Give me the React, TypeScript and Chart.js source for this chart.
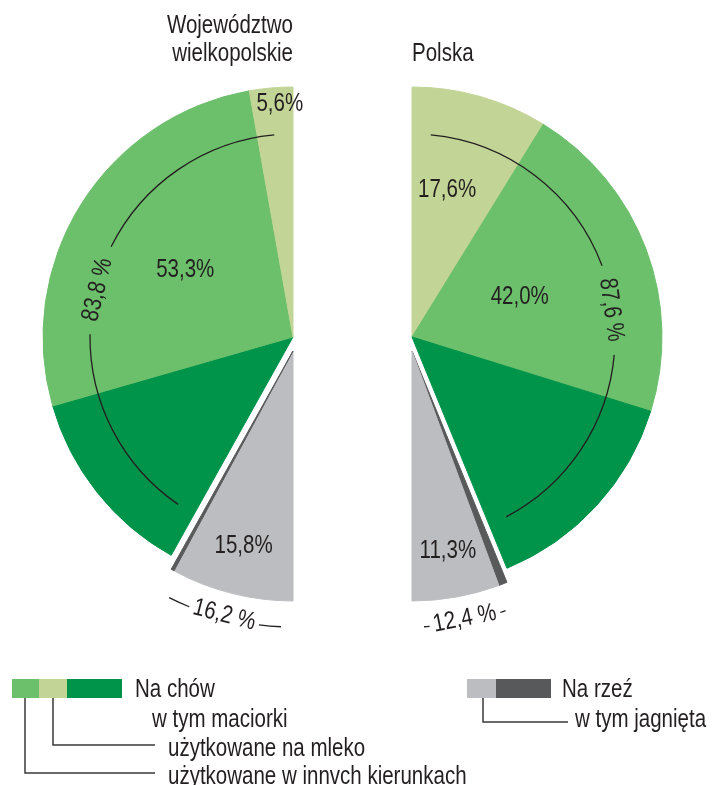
import React, { useEffect, useRef } from 'react';
import { Chart, registerables } from 'chart.js';

Chart.register(...registerables);

// ---------------- data ----------------
const sliceNames = [
  'na chów – maciorki użytkowane na mleko',
  'na chów – maciorki użytkowane w innych kierunkach',
  'na chów – pozostałe',
  'na rzeź – pozostałe',
  'na rzeź – jagnięta',
];
const wielkopolskieValues = [5.6, 53.3, 24.9, 0.4, 15.8];
const polskaValues = [17.6, 42.0, 28.0, 1.1, 11.3];
const wielkopolskieTotals = [83.8, 16.2]; // na chów, na rzeź
const polskaTotals = [87.6, 12.4];
const labelledSlices = [true, true, false, false, true];
const breedingSlices = [0, 1, 2];
const slaughterSlices = [3, 4];
const wielkopolskieTitle = ['Województwo', 'wielkopolskie'];
const polskaTitle = ['Polska'];
const legendBreeding = ['Na chów', 'w tym maciorki', 'użytkowane na mleko', 'użytkowane w innvch kierunkach'];
const legendSlaughter = ['Na rzeź', 'w tym jagnięta'];

// ---------------- styles / layout ----------------
const sliceColors = ['#c2d596', '#6cbf6b', '#00934a', '#58595b', '#bcbdc1'];
const W = 716;
const H = 785;
const CY = 337;
const R = 250;
const DY = 14;
const FONT = '"Liberation Sans", Arial, Helvetica, sans-serif';
const INK = '#231f20';
const FS = 25;
const SX = 0.82;

const fmt = (v: number) => v.toFixed(1).replace('.', ',');
const deg = (d: number) => (d * Math.PI) / 180;

function txt(
  ctx: CanvasRenderingContext2D,
  s: string,
  x: number,
  y: number,
  align: CanvasTextAlign,
  baseline: CanvasTextBaseline = 'alphabetic',
  rot = 0
) {
  ctx.save();
  ctx.translate(x, y);
  if (rot) ctx.rotate(rot);
  ctx.scale(SX, 1);
  ctx.font = `${FS}px ${FONT}`;
  ctx.textAlign = align;
  ctx.textBaseline = baseline;
  ctx.fillStyle = INK;
  ctx.fillText(s, 0, 0);
  ctx.restore();
}

interface PieSpec {
  left: boolean;
  cx: number;
  values: number[];
  totals: number[];
  title: string[];
  labelLayout: { r: number; da: number }[];
  breedShift: number;
}

const leftSpec: PieSpec = {
  left: true,
  cx: 293,
  values: wielkopolskieValues,
  totals: wielkopolskieTotals,
  title: wielkopolskieTitle,
  labelLayout: [
    { r: 233, da: 1.8 },
    { r: 127, da: 0 },
    { r: 0, da: 0 },
    { r: 0, da: 0 },
    { r: 201, da: 0 },
  ],
  breedShift: -1,
};

const rightSpec: PieSpec = {
  left: false,
  cx: 412,
  values: polskaValues,
  totals: polskaTotals,
  title: polskaTitle,
  labelLayout: [
    { r: 151, da: -2.4 },
    { r: 115, da: 0 },
    { r: 0, da: 0 },
    { r: 0, da: 0 },
    { r: 203, da: 0 },
  ],
  breedShift: 3.4,
};

function drawLegend(ctx: CanvasRenderingContext2D) {
  const y0 = 679;
  const h = 19;
  const sw: [number, number, number][] = [
    [12, 39, 1],
    [39, 67, 0],
    [67, 122, 2],
    [467, 496, 4],
    [496, 551, 3],
  ];
  sw.forEach(([a, b, c]) => {
    ctx.fillStyle = sliceColors[c];
    ctx.fillRect(a, y0, b - a, h);
  });
  ctx.save();
  ctx.strokeStyle = '#3a3a3a';
  ctx.lineWidth = 1.5;
  const paths: [number, number][][] = [
    [[53, 698], [53, 745], [155, 745]],
    [[25, 698], [25, 773], [155, 773]],
    [[483, 698], [483, 722], [568, 722]],
  ];
  paths.forEach((p) => {
    ctx.beginPath();
    ctx.moveTo(p[0][0], p[0][1]);
    for (let i = 1; i < p.length; i++) ctx.lineTo(p[i][0], p[i][1]);
    ctx.stroke();
  });
  ctx.restore();
  const bx = [135, 152, 168, 168];
  const by = [697, 727, 756, 784];
  legendBreeding.forEach((s, i) => txt(ctx, s, bx[i], by[i], 'left'));
  const sxs = [562, 575];
  const sys = [697, 727];
  legendSlaughter.forEach((s, i) => txt(ctx, s, sxs[i], sys[i], 'left'));
}

function makeChart(canvas: HTMLCanvasElement, spec: PieSpec) {
  const order = spec.left ? [4, 3, 2, 1, 0] : [0, 1, 2, 3, 4];
  const data = order.map((i) => spec.values[i]);
  const colors = order.map((i) => sliceColors[i]);

  const explodePlugin = {
    id: 'explode',
    beforeDatasetDraw(chart: any, args: any) {
      args.meta.data.forEach((el: any, k: number) => {
        if (slaughterSlices.includes(order[k]) && !el.$exploded) {
          const base = el.draw.bind(el);
          el.draw = (ctx: CanvasRenderingContext2D, area: any) => {
            ctx.save();
            ctx.translate(0, DY);
            base(ctx, area);
            ctx.restore();
          };
          el.$exploded = true;
        }
      });
    },
  };

  const decorPlugin = {
    id: 'decor',
    afterDatasetsDraw(chart: any) {
      const ctx: CanvasRenderingContext2D = chart.ctx;
      const els: any[] = chart.getDatasetMeta(0).data;
      const elOf = (n: number) => els[order.indexOf(n)];
      const cx = els[0].x;
      const cy = els[0].y;
      const group = (ns: number[]) => {
        let s = Infinity;
        let e = -Infinity;
        ns.forEach((n) => {
          const el = elOf(n);
          s = Math.min(s, el.startAngle);
          e = Math.max(e, el.endAngle);
        });
        return [s, e];
      };

      // slice labels
      spec.values.forEach((v, n) => {
        if (!labelledSlices[n]) return;
        const el = elOf(n);
        const lay = spec.labelLayout[n];
        const a = (el.startAngle + el.endAngle) / 2 + deg(lay.da);
        const yy = slaughterSlices.includes(n) ? cy + DY : cy;
        txt(ctx, fmt(v) + '%', cx + lay.r * Math.cos(a), yy + lay.r * Math.sin(a), 'center', 'middle');
      });

      ctx.save();
      ctx.strokeStyle = INK;
      ctx.lineWidth = 1.3;

      // breeding arc
      {
        const [s, e] = group(breedingSlices);
        const a0 = s + deg(5.3);
        const a1 = e - deg(5.3);
        const tm = (a0 + a1) / 2 + deg(spec.breedShift);
        const gap = deg(12.8);
        const rr = 203;
        ctx.beginPath();
        ctx.arc(cx, cy, rr, a0, tm - gap);
        ctx.stroke();
        ctx.beginPath();
        ctx.arc(cx, cy, rr, tm + gap, a1);
        ctx.stroke();
        txt(ctx, fmt(spec.totals[0]) + ' %', cx + 201 * Math.cos(tm), cy + 201 * Math.sin(tm), 'center', 'middle', tm + Math.PI / 2);
      }
      // slaughter arc
      {
        const [s, e] = group(slaughterSlices);
        const ccy = cy + DY;
        const a0 = s + deg(2.5);
        const a1 = e - deg(2.5);
        const tm = (a0 + a1) / 2;
        const gap = deg(7.5);
        const rr = 276;
        ctx.beginPath();
        ctx.arc(cx, ccy, rr, a0, tm - gap);
        ctx.stroke();
        ctx.beginPath();
        ctx.arc(cx, ccy, rr, tm + gap, a1);
        ctx.stroke();
        txt(ctx, fmt(spec.totals[1]) + ' %', cx + 273 * Math.cos(tm), ccy + 273 * Math.sin(tm), 'center', 'middle', tm - Math.PI / 2);
      }
      ctx.restore();

      // titles
      if (spec.left) {
        const ys = [33, 61];
        spec.title.forEach((t, i) => txt(ctx, t, cx, ys[i], 'right'));
        drawLegend(ctx);
      } else {
        spec.title.forEach((t) => txt(ctx, t, cx, 61, 'left'));
      }
    },
  };

  const padding = spec.left
    ? { left: spec.cx - R, right: W - spec.cx, top: CY - R, bottom: H - CY - R }
    : { left: spec.cx, right: W - spec.cx - R, top: CY - R, bottom: H - CY - R };

  return new Chart(canvas, {
    type: 'pie',
    data: {
      labels: order.map((i) => sliceNames[i]),
      datasets: [
        {
          data,
          backgroundColor: colors,
          borderColor: colors,
          borderWidth: 1,
        },
      ],
    },
    options: {
      animation: false,
      responsive: false,
      events: [],
      rotation: spec.left ? 180 : 0,
      circumference: 180,
      radius: R,
      layout: { padding },
      plugins: {
        legend: { display: false },
        tooltip: { enabled: false },
      },
    } as any,
    plugins: [explodePlugin, decorPlugin],
  });
}

export default function App() {
  const leftRef = useRef<HTMLCanvasElement>(null);
  const rightRef = useRef<HTMLCanvasElement>(null);

  useEffect(() => {
    const charts = [makeChart(leftRef.current!, leftSpec), makeChart(rightRef.current!, rightSpec)];
    return () => charts.forEach((c) => c.destroy());
  }, []);

  const cs: React.CSSProperties = { position: 'absolute', left: 0, top: 0, width: W, height: H };
  return (
    <div style={{ position: 'absolute', left: 0, top: 0, width: W, height: H, background: '#fff' }}>
      <canvas ref={leftRef} width={W} height={H} style={cs} />
      <canvas ref={rightRef} width={W} height={H} style={cs} />
    </div>
  );
}
